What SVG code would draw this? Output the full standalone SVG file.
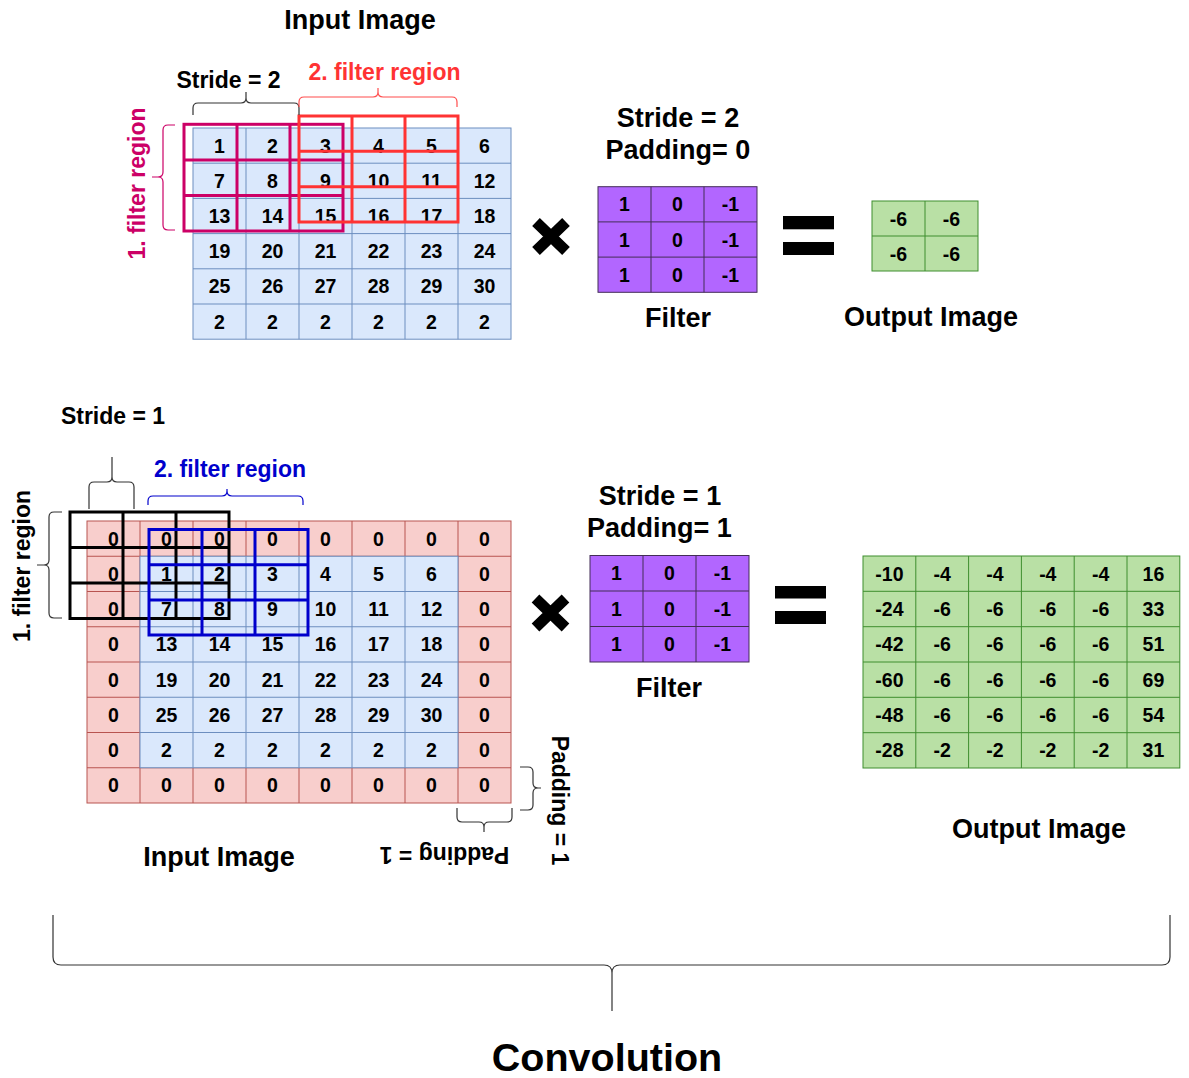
<svg xmlns="http://www.w3.org/2000/svg" width="1189" height="1078" viewBox="0 0 1189 1078">
<style>
text{font-family:"Liberation Sans",Arial,Helvetica,sans-serif;font-weight:bold;fill:#000}
.n{font-size:19.5px;text-anchor:middle}
.lbl{font-size:27px;text-anchor:middle}
.sm{font-size:23px;text-anchor:middle}
.blue{fill:#dae8fc;stroke:#6c8ebf;stroke-width:1}
.bl{stroke:#6c8ebf;stroke-width:1;fill:none}
.red{fill:#f8cecc;stroke:#b85450;stroke-width:1}
.rl{stroke:#b85450;stroke-width:1;fill:none}
.pur{fill:#b266ff;stroke:#432d57;stroke-width:1}
.pl{stroke:#432d57;stroke-width:1;fill:none}
.grn{fill:#b9e0a5;stroke:#3e8e2e;stroke-width:1}
.gl{stroke:#3e8e2e;stroke-width:1;fill:none}
.reg{fill:none;stroke-width:3}
.brace{fill:none;stroke-width:1.2}
.op{stroke:#000;stroke-width:11;fill:none}
</style>
<rect width="1189" height="1078" fill="#fff"/>

<!-- TOP SECTION -->
<text class="lbl" x="360" y="29">Input Image</text>

<g id="input-top">
<rect class="blue" x="193" y="128" width="318" height="211.2"/>
<path class="bl" d="M246 128V339.2M299 128V339.2M352 128V339.2M405 128V339.2M458 128V339.2M193 163.2H511M193 198.4H511M193 233.6H511M193 268.8H511M193 304H511"/>
<text class="n" x="219.5" y="152.6">1</text><text class="n" x="272.5" y="152.6">2</text><text class="n" x="325.5" y="152.6">3</text><text class="n" x="378.5" y="152.6">4</text><text class="n" x="431.5" y="152.6">5</text><text class="n" x="484.5" y="152.6">6</text>
<text class="n" x="219.5" y="187.8">7</text><text class="n" x="272.5" y="187.8">8</text><text class="n" x="325.5" y="187.8">9</text><text class="n" x="378.5" y="187.8">10</text><text class="n" x="431.5" y="187.8">11</text><text class="n" x="484.5" y="187.8">12</text>
<text class="n" x="219.5" y="223">13</text><text class="n" x="272.5" y="223">14</text><text class="n" x="325.5" y="223">15</text><text class="n" x="378.5" y="223">16</text><text class="n" x="431.5" y="223">17</text><text class="n" x="484.5" y="223">18</text>
<text class="n" x="219.5" y="258.2">19</text><text class="n" x="272.5" y="258.2">20</text><text class="n" x="325.5" y="258.2">21</text><text class="n" x="378.5" y="258.2">22</text><text class="n" x="431.5" y="258.2">23</text><text class="n" x="484.5" y="258.2">24</text>
<text class="n" x="219.5" y="293.4">25</text><text class="n" x="272.5" y="293.4">26</text><text class="n" x="325.5" y="293.4">27</text><text class="n" x="378.5" y="293.4">28</text><text class="n" x="431.5" y="293.4">29</text><text class="n" x="484.5" y="293.4">30</text>
<text class="n" x="219.5" y="328.6">2</text><text class="n" x="272.5" y="328.6">2</text><text class="n" x="325.5" y="328.6">2</text><text class="n" x="378.5" y="328.6">2</text><text class="n" x="431.5" y="328.6">2</text><text class="n" x="484.5" y="328.6">2</text>
</g>

<g id="filter-region-1-top">
<rect class="reg" stroke="#cc0066" x="184" y="124.3" width="159" height="106.7"/>
<path class="reg" stroke="#cc0066" d="M237 124.3V231M290 124.3V231M184 159.9H343M184 195.5H343"/>
<text class="sm" style="fill:#cc0066" transform="translate(145,183.5) rotate(-90)">1. filter region</text>
</g>

<g id="filter-region-2-top">
<rect class="reg" stroke="#ff3333" x="299" y="116" width="159" height="106"/>
<path class="reg" stroke="#ff3333" d="M352 116V222M405 116V222M299 151.3H458M299 186.7H458"/>
<text class="sm" style="fill:#ff3333" x="384.5" y="80">2. filter region</text>
</g>

<g id="stride-top-label">
<text class="sm" x="228.5" y="87.5">Stride = 2</text>
</g>

<g id="multiply-top"><path class="op" d="M536 222L566 251M566 222L536 251"/></g>

<g id="filter-top">
<text class="lbl" x="678" y="126.5">Stride = 2</text>
<text class="lbl" x="678" y="158.5">Padding= 0</text>
<rect class="pur" x="598" y="186.7" width="159" height="105.6"/>
<path class="pl" d="M651 186.7V292.3M704 186.7V292.3M598 221.9H757M598 257.1H757"/>
<text class="n" x="624.5" y="211.3">1</text><text class="n" x="677.5" y="211.3">0</text><text class="n" x="730.5" y="211.3">-1</text>
<text class="n" x="624.5" y="246.5">1</text><text class="n" x="677.5" y="246.5">0</text><text class="n" x="730.5" y="246.5">-1</text>
<text class="n" x="624.5" y="281.7">1</text><text class="n" x="677.5" y="281.7">0</text><text class="n" x="730.5" y="281.7">-1</text>
<text class="lbl" x="678" y="327">Filter</text>
</g>

<g id="equals-top"><rect x="783" y="216" width="51" height="13.3"/><rect x="783" y="242" width="51" height="13"/></g>

<g id="output-top">
<rect class="grn" x="872" y="201" width="106" height="70"/>
<path class="gl" d="M925 201V271M872 236H978"/>
<text class="n" x="898.5" y="225.5">-6</text><text class="n" x="951.5" y="225.5">-6</text>
<text class="n" x="898.5" y="260.5">-6</text><text class="n" x="951.5" y="260.5">-6</text>
<text class="lbl" x="931" y="326">Output Image</text>
</g>

<!-- BOTTOM SECTION -->
<g id="input-bottom">
<rect class="red" x="87" y="521" width="424" height="282"/>
<path class="rl" d="M140 521V803M193 521V803M246 521V803M299 521V803M352 521V803M405 521V803M458 521V803M87 556.25H511M87 591.5H511M87 626.75H511M87 662H511M87 697.25H511M87 732.5H511M87 767.75H511"/>
<rect class="blue" x="140" y="556.25" width="318" height="211.5"/>
<path class="bl" d="M193 556.25V767.75M246 556.25V767.75M299 556.25V767.75M352 556.25V767.75M405 556.25V767.75M140 591.5H458M140 626.75H458M140 662H458M140 697.25H458M140 732.5H458"/>
<text class="n" x="113.5" y="545.6">0</text><text class="n" x="166.5" y="545.6">0</text><text class="n" x="219.5" y="545.6">0</text><text class="n" x="272.5" y="545.6">0</text><text class="n" x="325.5" y="545.6">0</text><text class="n" x="378.5" y="545.6">0</text><text class="n" x="431.5" y="545.6">0</text><text class="n" x="484.5" y="545.6">0</text>
<text class="n" x="113.5" y="580.9">0</text><text class="n" x="166.5" y="580.9">1</text><text class="n" x="219.5" y="580.9">2</text><text class="n" x="272.5" y="580.9">3</text><text class="n" x="325.5" y="580.9">4</text><text class="n" x="378.5" y="580.9">5</text><text class="n" x="431.5" y="580.9">6</text><text class="n" x="484.5" y="580.9">0</text>
<text class="n" x="113.5" y="616.1">0</text><text class="n" x="166.5" y="616.1">7</text><text class="n" x="219.5" y="616.1">8</text><text class="n" x="272.5" y="616.1">9</text><text class="n" x="325.5" y="616.1">10</text><text class="n" x="378.5" y="616.1">11</text><text class="n" x="431.5" y="616.1">12</text><text class="n" x="484.5" y="616.1">0</text>
<text class="n" x="113.5" y="651.4">0</text><text class="n" x="166.5" y="651.4">13</text><text class="n" x="219.5" y="651.4">14</text><text class="n" x="272.5" y="651.4">15</text><text class="n" x="325.5" y="651.4">16</text><text class="n" x="378.5" y="651.4">17</text><text class="n" x="431.5" y="651.4">18</text><text class="n" x="484.5" y="651.4">0</text>
<text class="n" x="113.5" y="686.6">0</text><text class="n" x="166.5" y="686.6">19</text><text class="n" x="219.5" y="686.6">20</text><text class="n" x="272.5" y="686.6">21</text><text class="n" x="325.5" y="686.6">22</text><text class="n" x="378.5" y="686.6">23</text><text class="n" x="431.5" y="686.6">24</text><text class="n" x="484.5" y="686.6">0</text>
<text class="n" x="113.5" y="721.9">0</text><text class="n" x="166.5" y="721.9">25</text><text class="n" x="219.5" y="721.9">26</text><text class="n" x="272.5" y="721.9">27</text><text class="n" x="325.5" y="721.9">28</text><text class="n" x="378.5" y="721.9">29</text><text class="n" x="431.5" y="721.9">30</text><text class="n" x="484.5" y="721.9">0</text>
<text class="n" x="113.5" y="757.1">0</text><text class="n" x="166.5" y="757.1">2</text><text class="n" x="219.5" y="757.1">2</text><text class="n" x="272.5" y="757.1">2</text><text class="n" x="325.5" y="757.1">2</text><text class="n" x="378.5" y="757.1">2</text><text class="n" x="431.5" y="757.1">2</text><text class="n" x="484.5" y="757.1">0</text>
<text class="n" x="113.5" y="792.4">0</text><text class="n" x="166.5" y="792.4">0</text><text class="n" x="219.5" y="792.4">0</text><text class="n" x="272.5" y="792.4">0</text><text class="n" x="325.5" y="792.4">0</text><text class="n" x="378.5" y="792.4">0</text><text class="n" x="431.5" y="792.4">0</text><text class="n" x="484.5" y="792.4">0</text>
<text class="lbl" x="219" y="866">Input Image</text>
</g>

<g id="filter-region-1-bottom">
<rect class="reg" stroke="#000" x="70" y="512" width="159" height="106.5"/>
<path class="reg" stroke="#000" d="M123 512V618.5M176 512V618.5M70 547.5H229M70 583H229"/>
<text class="sm" transform="translate(30,566) rotate(-90)">1. filter region</text>
</g>

<g id="filter-region-2-bottom">
<rect class="reg" stroke="#0000cc" x="149" y="529.5" width="159" height="105.5"/>
<path class="reg" stroke="#0000cc" d="M202 529.5V635M255 529.5V635M149 564.7H308M149 600H308"/>
<text class="sm" style="fill:#0000cc" x="230" y="476.5">2. filter region</text>
</g>

<g id="stride-bottom-label"><text class="sm" x="113" y="423.5">Stride = 1</text></g>

<g id="padding-labels">
<text class="sm" transform="translate(444.5,847) rotate(180)">Padding = 1</text>
<text class="sm" transform="translate(552,800.5) rotate(90)">Padding = 1</text>
</g>

<g id="multiply-bottom"><path class="op" d="M535.5 598.5L565.5 627.5M565.5 598.5L535.5 627.5"/></g>

<g id="filter-bottom">
<text class="lbl" x="660" y="505">Stride = 1</text>
<text class="lbl" x="659.5" y="537">Padding= 1</text>
<rect class="pur" x="590" y="555.5" width="159" height="106.5"/>
<path class="pl" d="M643 555.5V662M696 555.5V662M590 591H749M590 626.5H749"/>
<text class="n" x="616.5" y="580.3">1</text><text class="n" x="669.5" y="580.3">0</text><text class="n" x="722.5" y="580.3">-1</text>
<text class="n" x="616.5" y="615.8">1</text><text class="n" x="669.5" y="615.8">0</text><text class="n" x="722.5" y="615.8">-1</text>
<text class="n" x="616.5" y="651.3">1</text><text class="n" x="669.5" y="651.3">0</text><text class="n" x="722.5" y="651.3">-1</text>
<text class="lbl" x="669" y="697">Filter</text>
</g>

<g id="equals-bottom"><rect x="775" y="586" width="51" height="12.5"/><rect x="775" y="611" width="51" height="13"/></g>

<g id="output-bottom">
<rect class="grn" x="863" y="556" width="316.8" height="212"/>
<path class="gl" d="M915.8 556V768M968.6 556V768M1021.4 556V768M1074.2 556V768M1127 556V768M863 591.3H1179.8M863 626.7H1179.8M863 662H1179.8M863 697.3H1179.8M863 732.7H1179.8"/>
<text class="n" x="889.4" y="580.7">-10</text><text class="n" x="942.2" y="580.7">-4</text><text class="n" x="995" y="580.7">-4</text><text class="n" x="1047.8" y="580.7">-4</text><text class="n" x="1100.6" y="580.7">-4</text><text class="n" x="1153.4" y="580.7">16</text>
<text class="n" x="889.4" y="616">-24</text><text class="n" x="942.2" y="616">-6</text><text class="n" x="995" y="616">-6</text><text class="n" x="1047.8" y="616">-6</text><text class="n" x="1100.6" y="616">-6</text><text class="n" x="1153.4" y="616">33</text>
<text class="n" x="889.4" y="651.3">-42</text><text class="n" x="942.2" y="651.3">-6</text><text class="n" x="995" y="651.3">-6</text><text class="n" x="1047.8" y="651.3">-6</text><text class="n" x="1100.6" y="651.3">-6</text><text class="n" x="1153.4" y="651.3">51</text>
<text class="n" x="889.4" y="686.7">-60</text><text class="n" x="942.2" y="686.7">-6</text><text class="n" x="995" y="686.7">-6</text><text class="n" x="1047.8" y="686.7">-6</text><text class="n" x="1100.6" y="686.7">-6</text><text class="n" x="1153.4" y="686.7">69</text>
<text class="n" x="889.4" y="722">-48</text><text class="n" x="942.2" y="722">-6</text><text class="n" x="995" y="722">-6</text><text class="n" x="1047.8" y="722">-6</text><text class="n" x="1100.6" y="722">-6</text><text class="n" x="1153.4" y="722">54</text>
<text class="n" x="889.4" y="757.3">-28</text><text class="n" x="942.2" y="757.3">-2</text><text class="n" x="995" y="757.3">-2</text><text class="n" x="1047.8" y="757.3">-2</text><text class="n" x="1100.6" y="757.3">-2</text><text class="n" x="1153.4" y="757.3">31</text>
<text class="lbl" x="1039" y="838">Output Image</text>
</g>

<g id="convolution-label"><text x="607" y="1071" style="font-size:39.5px;text-anchor:middle">Convolution</text></g>

<g id="connectors">
<path class="brace" stroke="#333" d="M193 115V108Q193 103 198 103H241Q246 103 246 98V92M246 98Q246 103 251 103H294Q299 103 299 108V115"/>
<path class="brace" stroke="#ff4d4d" d="M299 107V102Q299 97 304 97H373Q378 97 378 92V88M378 92Q378 97 383 97H452Q457 97 457 102V107"/>
<path class="brace" stroke="#cc0066" d="M175 125H168Q163 125 163 130V172Q163 177 158 177H152M158 177Q163 177 163 182V225Q163 230 168 230H175"/>
<path class="brace" stroke="#333" d="M89 509V487Q89 482 94 482H107Q112 482 112 477V457M112 477Q112 482 117 482H129Q134 482 134 487V509"/>
<path class="brace" stroke="#0000cc" d="M148 505V501Q148 496 153 496H222Q227 496 227 491V489M227 491Q227 496 232 496H298Q303 496 303 501V505"/>
<path class="brace" stroke="#333" d="M62 512H54Q49 512 49 517V560Q49 565 44 565H37M44 565Q49 565 49 570V613Q49 618 54 618H62"/>
<path class="brace" stroke="#333" d="M457 808V817Q457 822 462 822H479Q484 822 484 827V832M484 827Q484 822 489 822H507Q512 822 512 817V808"/>
<path class="brace" stroke="#333" d="M520 767H528Q533 767 533 772V783Q533 788 538 788H541M538 788Q533 788 533 793V805Q533 810 528 810H520"/>
<path class="brace" stroke="#333" d="M53 915V957Q53 965 61 965H604Q612 965 612 973V1011M612 973Q612 965 620 965H1162Q1170 965 1170 957V915"/>
</g>
</svg>
